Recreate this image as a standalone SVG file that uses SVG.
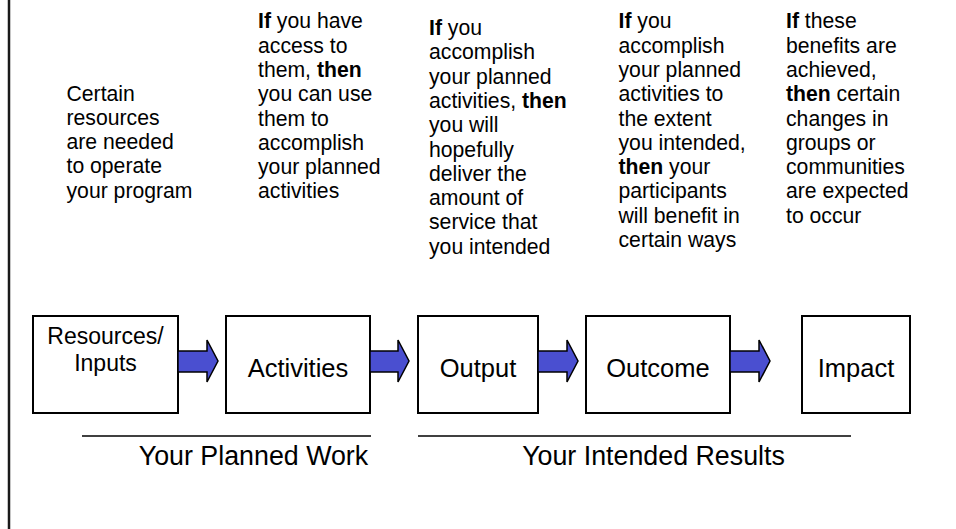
<svg xmlns="http://www.w3.org/2000/svg" width="956" height="529" viewBox="0 0 956 529">
<style>
.t{font-family:"Liberation Sans",Arial,sans-serif;font-size:21.2px;fill:#000}
.b{font-weight:bold}
.box{fill:#fff;stroke:#000;stroke-width:2}
.lbl{font-family:"Liberation Sans",Arial,sans-serif;font-size:25.5px;fill:#000;text-anchor:middle}
.lbl2{font-family:"Liberation Sans",Arial,sans-serif;font-size:23px;fill:#000;text-anchor:middle}
.foot{font-family:"Liberation Sans",Arial,sans-serif;font-size:26.8px;fill:#000;text-anchor:middle}
.arr{fill:#4a4fd0;stroke:#000;stroke-width:1.5;stroke-linejoin:miter}
.rule{stroke:#000;stroke-width:1.6}
</style>
<rect width="956" height="529" fill="#fff"/>
<line x1="9" y1="0" x2="9" y2="529" stroke="#1a1a1a" stroke-width="2.5"/>

<g id="text-resources">
<text class="t"><tspan x="66.5" y="100.5">Certain</tspan><tspan x="66.5" y="124.8">resources</tspan><tspan x="66.5" y="149.1">are needed</tspan><tspan x="66.5" y="173.4">to operate</tspan><tspan x="66.5" y="197.7">your program</tspan></text>
</g>
<g id="text-activities">
<text class="t"><tspan x="258" y="28.3"><tspan class="b">If</tspan> you have</tspan><tspan x="258" y="52.6">access to</tspan><tspan x="258" y="76.9">them, <tspan class="b">then</tspan></tspan><tspan x="258" y="101.2">you can use</tspan><tspan x="258" y="125.5">them to</tspan><tspan x="258" y="149.8">accomplish</tspan><tspan x="258" y="174.1">your planned</tspan><tspan x="258" y="198.4">activities</tspan></text>
</g>
<g id="text-output">
<text class="t"><tspan x="429" y="35"><tspan class="b">If</tspan> you</tspan><tspan x="429" y="59.3">accomplish</tspan><tspan x="429" y="83.6">your planned</tspan><tspan x="429" y="107.9">activities, <tspan class="b">then</tspan></tspan><tspan x="429" y="132.2">you will</tspan><tspan x="429" y="156.5">hopefully</tspan><tspan x="429" y="180.8">deliver the</tspan><tspan x="429" y="205.1">amount of</tspan><tspan x="429" y="229.4">service that</tspan><tspan x="429" y="253.7">you intended</tspan></text>
</g>
<g id="text-outcome">
<text class="t"><tspan x="618.5" y="28.3"><tspan class="b">If</tspan> you</tspan><tspan x="618.5" y="52.6">accomplish</tspan><tspan x="618.5" y="76.9">your planned</tspan><tspan x="618.5" y="101.2">activities to</tspan><tspan x="618.5" y="125.5">the extent</tspan><tspan x="618.5" y="149.8">you intended,</tspan><tspan x="618.5" y="174.1"><tspan class="b">then</tspan> your</tspan><tspan x="618.5" y="198.4">participants</tspan><tspan x="618.5" y="222.7">will benefit in</tspan><tspan x="618.5" y="247">certain ways</tspan></text>
</g>
<g id="text-impact">
<text class="t"><tspan x="786" y="28.3"><tspan class="b">If</tspan> these</tspan><tspan x="786" y="52.6">benefits are</tspan><tspan x="786" y="76.9">achieved,</tspan><tspan x="786" y="101.2"><tspan class="b">then</tspan> certain</tspan><tspan x="786" y="125.5">changes in</tspan><tspan x="786" y="149.8">groups or</tspan><tspan x="786" y="174.1">communities</tspan><tspan x="786" y="198.4">are expected</tspan><tspan x="786" y="222.7">to occur</tspan></text>
</g>

<g id="node-resources">
<rect class="box" x="33" y="316" width="145" height="97"/>
<text class="lbl2"><tspan x="105.5" y="344">Resources/</tspan><tspan x="105.5" y="370.5">Inputs</tspan></text>
</g>
<g id="node-activities">
<rect class="box" x="226" y="316" width="144" height="97"/>
<text class="lbl" x="298" y="377">Activities</text>
</g>
<g id="node-output">
<rect class="box" x="418" y="316" width="120" height="97"/>
<text class="lbl" x="478" y="377">Output</text>
</g>
<g id="node-outcome">
<rect class="box" x="586" y="316" width="144" height="97"/>
<text class="lbl" x="658" y="377">Outcome</text>
</g>
<g id="node-impact">
<rect class="box" x="802" y="316" width="108" height="97"/>
<text class="lbl" x="856" y="377">Impact</text>
</g>

<g id="connectors">
<path class="arr" d="M178,351 H207 V340 L218,361 L207,382 V372 H178 Z"/>
<path class="arr" d="M370,351 H398 V340 L409,361 L398,382 V372 H370 Z"/>
<path class="arr" d="M538,351 H567 V340 L578,361 L567,382 V372 H538 Z"/>
<path class="arr" d="M730,351 H759 V340 L770,361 L759,382 V372 H730 Z"/>
</g>

<g id="group-planned-work">
<line class="rule" x1="82" y1="436" x2="371" y2="436"/>
<text class="foot" x="253.5" y="465">Your Planned Work</text>
</g>
<g id="group-intended-results">
<line class="rule" x1="418" y1="436" x2="851" y2="436"/>
<text class="foot" x="653.5" y="465">Your Intended Results</text>
</g>
</svg>
